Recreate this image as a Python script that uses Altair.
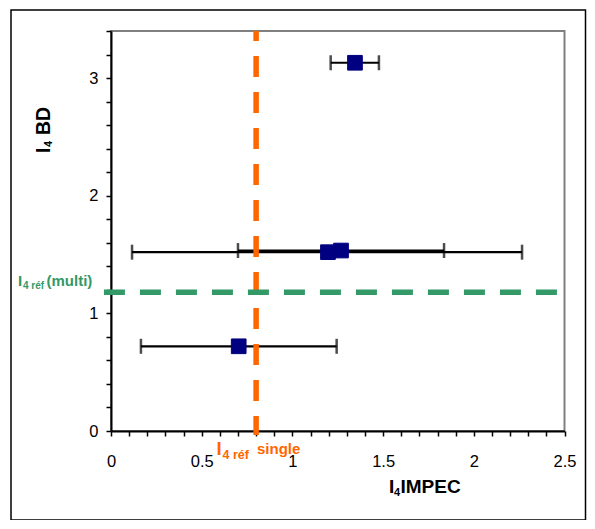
import altair as alt
import pandas as pd

# ---- data ----
pt_x = [1.345, 1.196, 1.268, 0.704]
pt_y = [3.13, 1.52, 1.534, 0.72]
err_lo = [1.211, 0.116, 0.700, 0.165]
err_hi = [1.477, 2.266, 1.836, 1.244]

ref_single_x = 0.8          # I4 réf single (vertical orange)
ref_single_span = [3.4, -0.034]
ref_multi_y = 1.18          # I4 réf (multi) (horizontal green)
ref_multi_span = [-0.039, 2.533]

x_ticks = [round(i * 0.1, 1) for i in range(26)]
y_ticks = [round(i * 0.2, 1) for i in range(18)]

FONT = "Liberation Sans"
ORANGE = "#FF6600"
GREEN = "#339966"
NAVY = "#000080"
W, H = 453.5, 400

pts = pd.DataFrame({"x": pt_x, "y": pt_y, "lo": err_lo, "hi": err_hi})
caps = pd.DataFrame({"x": err_lo + err_hi, "y": pt_y + pt_y})

xs = alt.Scale(domain=[0, 2.5], nice=False, zero=False)
ys = alt.Scale(domain=[0, 3.4], nice=False, zero=False)

xaxis = alt.Axis(
    values=x_ticks, tickCount=200,
    labelExpr="abs(datum.value*2 - round(datum.value*2)) < 0.001 ? format(datum.value, '~g') : ''",
    title=None, grid=False, domainColor="black", domainWidth=2, tickColor="black",
    tickWidth=1.5, tickSize=5, labelFont=FONT, labelFontSize=16.5, labelColor="black",
    labelPadding=17, labelFlush=False, labelOverlap=False,
)
yaxis = alt.Axis(
    values=y_ticks, tickCount=200,
    labelExpr="abs(datum.value - round(datum.value)) < 0.001 ? format(datum.value, '~g') : ''",
    title=None, grid=False, domainColor="black", domainWidth=2, tickColor="black",
    tickWidth=1.5, tickSize=5, labelFont=FONT, labelFontSize=16.5, labelColor="black",
    labelPadding=8, labelFlush=False, labelOverlap=False,
)

bars = alt.Chart(pts).mark_rule(color="black", strokeWidth=2.2).encode(
    x=alt.X("lo:Q", scale=xs, axis=xaxis),
    x2="hi:Q",
    y=alt.Y("y:Q", scale=ys, axis=yaxis),
)
cap_marks = alt.Chart(caps).mark_tick(orient="vertical", color="black", size=15, thickness=2.5).encode(
    x=alt.X("x:Q", scale=xs), y=alt.Y("y:Q", scale=ys)
)
squares = alt.Chart(pts).mark_square(size=215, color=NAVY, opacity=1, stroke=NAVY, strokeWidth=1).encode(
    x=alt.X("x:Q", scale=xs), y=alt.Y("y:Q", scale=ys)
)

orange_df = pd.DataFrame({"x": [ref_single_x], "y": [ref_single_span[0]], "y2": [ref_single_span[1]]})
orange = alt.Chart(orange_df).mark_rule(
    color=ORANGE, strokeWidth=5.5, strokeDash=[21, 15], strokeDashOffset=11, strokeCap="butt"
).encode(x=alt.X("x:Q", scale=xs), y=alt.Y("y:Q", scale=ys), y2="y2:Q")

green_df = pd.DataFrame({"y": [ref_multi_y], "x": [ref_multi_span[0]], "x2": [ref_multi_span[1]]})
green = alt.Chart(green_df).mark_rule(
    color=GREEN, strokeWidth=5.5, strokeDash=[21, 15], strokeCap="butt"
).encode(y=alt.Y("y:Q", scale=ys), x=alt.X("x:Q", scale=xs), x2="x2:Q")


def txt(text, px, py, size, color="black", angle=0):
    return alt.Chart(pd.DataFrame({"t": [text]})).mark_text(
        font=FONT, fontWeight="bold", fontSize=size, color=color, align="left",
        baseline="alphabetic", angle=angle,
    ).encode(text="t:N", x=alt.value(px), y=alt.value(py))


# pixel offsets relative to plot-area origin (111, 31)
texts = [
    # x-axis title: I4 IMPEC
    txt("I", 278, 462, 19), txt("4", 283, 464.5, 11), txt("IMPEC", 289.5, 462, 19),
    # y-axis title: I4 BD (rotated)
    txt("I", -61, 122, 19.5, angle=270), txt("4", -59, 116, 11, angle=270),
    txt("BD", -61, 104, 19.5, angle=270),
    # green label
    txt("I", -93, 255, 15, GREEN), txt("4 réf", -88, 257.5, 10, GREEN),
    txt("(multi)", -64.5, 255, 15, GREEN),
    # orange label
    txt("I", 105.5, 424, 18.5, ORANGE), txt("4 réf", 111.5, 428, 12.5, ORANGE),
    txt("single", 146, 423, 15, ORANGE),
]

frame = alt.Chart(pd.DataFrame({"a": [0]})).mark_rect(
    fill="transparent", stroke="black", strokeWidth=1.5
).encode(x=alt.value(-100), x2=alt.value(474.5), y=alt.value(-21), y2=alt.value(489))

chart = alt.layer(bars, cap_marks, squares, orange, green, frame, *texts).properties(
    width=W, height=H,
    padding={"left": 103, "top": 23, "right": 22, "bottom": 89},
    autosize=alt.AutoSizeParams(type="none"),
    background="white",
).configure_view(stroke="#808080", strokeWidth=2)

chart.save("out.html", embed_options={"renderer": "svg", "actions": False})
